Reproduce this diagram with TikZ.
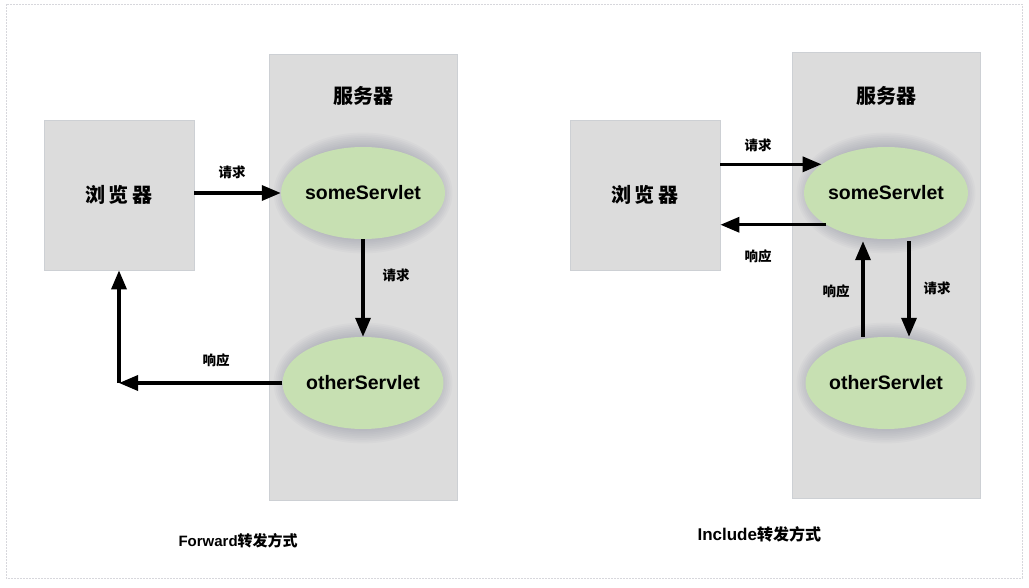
\documentclass[tikz,border=0pt]{standalone}
\usepackage{fontspec}
\setmainfont{Liberation Sans}
\newfontfamily\cjk{Noto Sans CJK SC}
\usetikzlibrary{arrows.meta,shapes.geometric,calc}
\definecolor{boxgray}{RGB}{220,220,220}
\definecolor{boxline}{RGB}{205,208,212}
\definecolor{servgreen}{RGB}{199,224,178}
\definecolor{glowcol}{RGB}{110,115,135}
\definecolor{framecol}{RGB}{215,215,220}
\tikzset{
  box/.style={draw=boxline, line width=0.8pt, fill=boxgray, inner sep=0pt},
  servlet/.style={ellipse, fill=servgreen, minimum width=150pt, minimum height=92pt, inner sep=0pt, font=\fontsize{19.5}{21}\selectfont\bfseries},
  title/.style={font=\cjk\bfseries\fontsize{20}{22}\selectfont},
  lbl/.style={font=\cjk\bfseries\fontsize{13.5}{15}\selectfont},
  arr/.style={line width=3.4pt, -{Triangle[length=19pt,width=15pt]}},
  caption/.style={font=\bfseries\fontsize{15}{17}\selectfont}
}
\newcommand{\glowat}[1]{%
  \foreach \i in {1,...,8}{\fill[glowcol, opacity=0.045] (#1) ellipse [x radius={75pt+1.8pt*\i}, y radius={46pt+1.8pt*\i}];}}
\begin{document}
\begin{tikzpicture}[x=1pt,y=-1pt]
\useasboundingbox (0,0) rectangle (1029,587);
\fill[white] (0,0) rectangle (1029,587);
\draw[framecol, line width=1pt, dash pattern=on 2pt off 1pt] (6,4) rectangle (1022,578);

% ---------- Forward ----------
\node[box, minimum width=188pt, minimum height=446pt] (serverL) at (363,277) {};
\node[title] (serverLt) at (363,96) {服务器};
\node[box, minimum width=150pt, minimum height=150pt, title] (browserL) at (119,195) {浏\,览\,器};
\coordinate (cSomeL) at (363,193);
\coordinate (cOtherL) at (363,383);
\glowat{cSomeL}
\glowat{cOtherL}
\node[servlet] (someL) at (cSomeL) {someServlet};
\node[servlet] (otherL) at (cOtherL) {otherServlet};
\draw[arr] (browserL.east |- someL.west) -- (someL.west);
\draw[arr] (someL.south) -- (otherL.north);
\coordinate (cornerL) at (browserL.south |- otherL.west);
\draw[arr] (otherL.west) -- (cornerL);
\draw[arr] (cornerL) -- (browserL.south);
\node[lbl] (l1) at (232,172) {请求};
\node[lbl] (l2) at (396,275) {请求};
\node[lbl] (l3) at (216,360) {响应};
\node[caption, anchor=west] (capL) at (175,541) {Forward{\cjk\bfseries 转发方式}};

% ---------- Include ----------
\node[box, minimum width=188pt, minimum height=446pt] (serverR) at (886,275) {};
\node[title] (serverRt) at (886,96) {服务器};
\node[box, minimum width=150pt, minimum height=150pt, title] (browserR) at (645,195) {浏\,览\,器};
\coordinate (cSomeR) at (886,193);
\coordinate (cOtherR) at (886,383);
\glowat{cSomeR}
\glowat{cOtherR}
\node[servlet] (someR) at (cSomeR) {someServlet};
\node[servlet] (otherR) at (cOtherR) {otherServlet};
\draw[arr] (browserR.east |- someR.156) -- (someR.156);
\draw[arr] (someR.208) -- (browserR.east |- someR.208);
\draw[arr] ([xshift=-23pt]otherR.north) -- ([xshift=-23pt,yshift=-2pt]someR.south);
\draw[arr] ([xshift=23pt,yshift=-2pt]someR.south) -- ([xshift=23pt]otherR.north);
\node[lbl] (r1) at (758,145) {请求};
\node[lbl] (r2) at (758,256) {响应};
\node[lbl] (r3) at (836,291) {响应};
\node[lbl] (r4) at (937,288) {请求};
\node[caption, anchor=west, font=\bfseries\fontsize{17}{19}\selectfont] (capR) at (694,534) {Include{\cjk\bfseries\fontsize{16}{18}\selectfont 转发方式}};
\end{tikzpicture}
\end{document}
